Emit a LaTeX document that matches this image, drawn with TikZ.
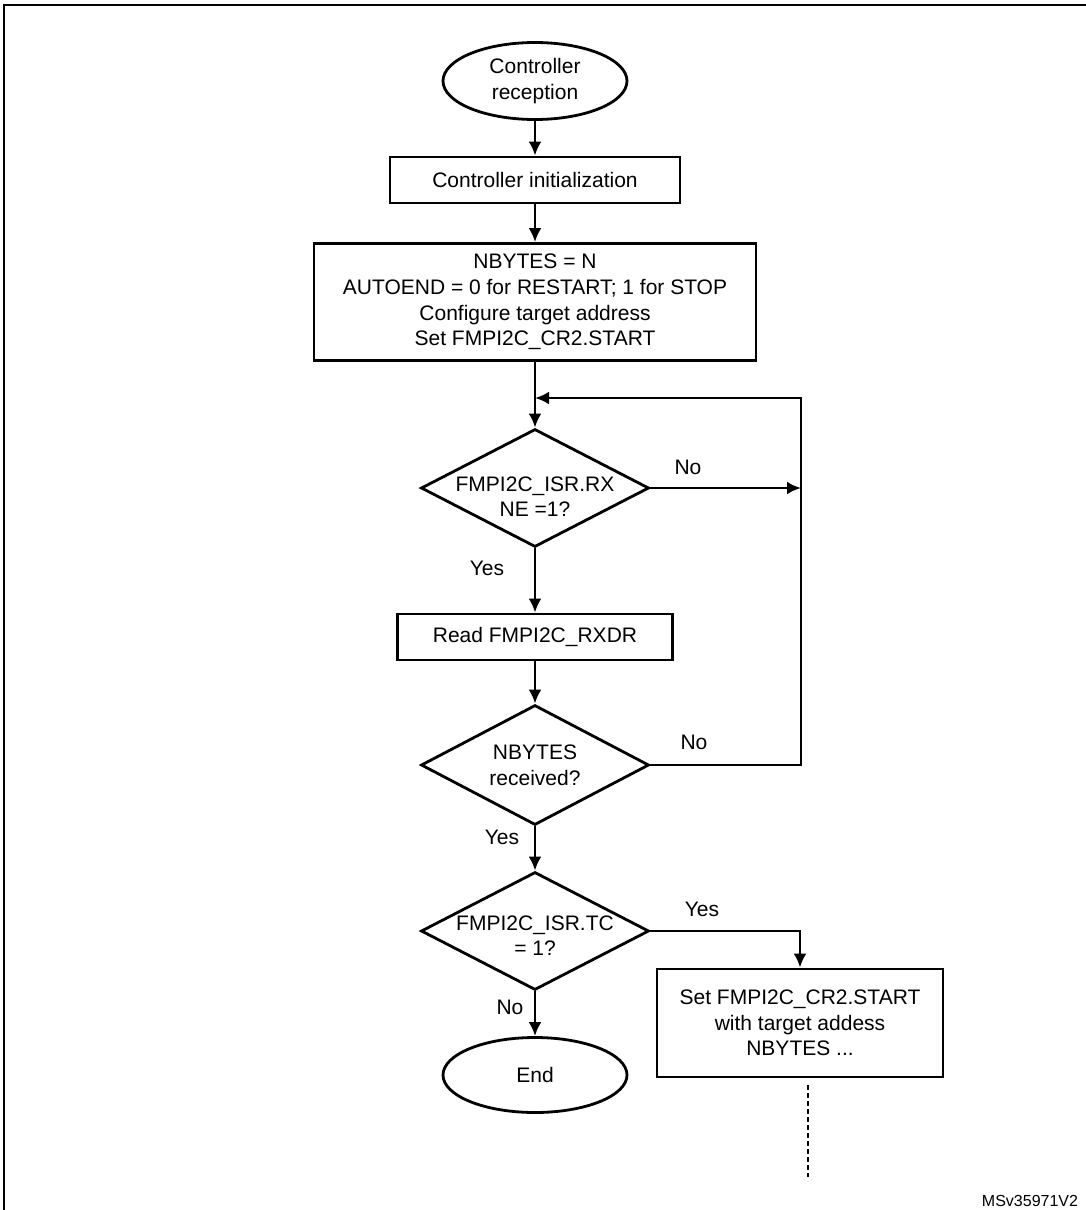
\documentclass[tikz,border=0pt]{standalone}
\usepackage{fontspec}
\setmainfont{Liberation Sans}
\usetikzlibrary{shapes.geometric,arrows.meta}
\tikzset{
  terminal/.style={draw,ellipse,inner sep=0pt,minimum width=184pt,minimum height=77pt,align=center},
  process/.style={draw,rectangle,inner sep=0pt,align=center},
  decision/.style={draw,diamond,shape aspect=2,inner xsep=-20pt,inner ysep=-10pt,minimum width=228pt,minimum height=118pt,align=center},
  flow/.style={-{Latex[length=14pt,width=13pt]}}
}
\begin{document}
\begin{tikzpicture}[x=1pt,y=-1pt,line width=2.8pt,font={\fontsize{21}{25.7}\selectfont}]
  \useasboundingbox (0,0) rectangle (1085,1210);
  \draw[line width=2pt] (4,5) rectangle (1092,1230);
  \node[terminal] (start) at (535,81) {Controller\\reception};
  \node[process,minimum width=290pt,minimum height=46pt] (init) at (535,180) {Controller initialization};
  \node[process,minimum width=442pt,minimum height=117pt] (setup) at (535,302) {NBYTES = N\\AUTOEND = 0 for RESTART; 1 for STOP\\Configure target address\\Set FMPI2C\_CR2.START};
  \node[decision] (rxne) at (535,488) {\rule{0pt}{32pt}FMPI2C\_ISR.RX\\NE =1?};
  \node[process,minimum width=275pt,minimum height=46pt] (read) at (535,637) {Read FMPI2C\_RXDR};
  \node[decision,minimum height=120pt] (nbytes) at (535,765) {NBYTES\\received?};
  \node[decision] (tc) at (535,931) {\rule{0pt}{24pt}FMPI2C\_ISR.TC\\= 1?};
  \node[terminal,minimum height=75pt] (end) at (535,1075) {End};
  \node[process,minimum width=286pt,minimum height=108pt] (restart) at (800,1023) {Set FMPI2C\_CR2.START\\with target addess\\NBYTES ...};
  \coordinate (loop) at (535,398);
  \coordinate (rxnoR) at (801,488);
  \coordinate (nbnoR) at (801,765);
  \coordinate (dots1) at (808,1085);
  \coordinate (dots2) at (808,1177);
  % main column
  \draw[flow] (start.south) -- (init.north);
  \draw[flow] (init.south) -- (setup.north);
  \draw[flow] (setup.south) -- (rxne.north);
  \draw[flow] (rxne.south) -- (read.north);
  \draw[flow] (read.south) -- (nbytes.north);
  \draw[flow] (nbytes.south) -- (tc.north);
  \draw[flow] (tc.south) -- (end.north);
  % loop back
  \draw[flow] (rxne.east) -- (rxnoR);
  \draw[flow] (nbytes.east) -- (nbnoR) |- (loop);
  \draw[flow] (tc.east) -| (restart.north);
  \draw[line width=2pt,dash pattern=on 5pt off 3pt] (dots1) -- (dots2);
  \node (no1) at (688,467) {No};
  \node (yes1) at (487,568) {Yes};
  \node (no2) at (694,742) {No};
  \node (yes2) at (502,837) {Yes};
  \node (yes3) at (702,909) {Yes};
  \node (no3) at (510,1007) {No};
  \node[font={\fontsize{16}{19}\selectfont}] (ref) at (1030,1201) {MSv35971V2};
\end{tikzpicture}
\end{document}
